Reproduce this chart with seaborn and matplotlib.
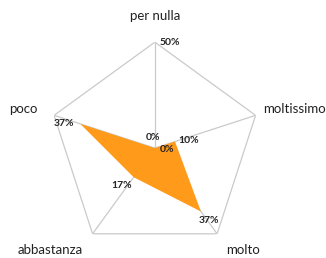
import numpy as np
import matplotlib
matplotlib.use("Agg")
import matplotlib.pyplot as plt
import seaborn as sns

# data
categories = ["per nulla", "moltissimo", "molto", "abbastanza", "poco"]
values = [0, 10, 37, 17, 37]
value_labels = ["0%", "10%", "37%", "17%", "37%"]
r_max = 50

sns.set_theme(style="white")
plt.rcParams['font.family'] = ['Lato', 'DejaVu Sans']

fig = plt.figure(figsize=(3.26, 2.58), dpi=100)
ax = fig.add_axes([0.150, 0.015, 0.650, 0.822], projection='polar')
ax.set_theta_offset(np.pi / 2)
ax.set_theta_direction(-1)
ax.set_ylim(0, r_max)
ax.set_xticks([])
ax.set_yticks([])
ax.grid(False)
ax.spines['polar'].set_visible(False)
ax.patch.set_alpha(0)

n = len(categories)
theta = np.linspace(0, 2 * np.pi, n, endpoint=False)
theta_c = np.append(theta, theta[0])

grey = '#CACACA'
# outer pentagon and spokes
ax.plot(theta_c, [r_max] * (n + 1), color=grey, lw=0.9, zorder=1)
for t in theta:
    ax.plot([t, t], [0, r_max], color=grey, lw=0.9, zorder=1)

# data polygon
vals_c = np.append(values, values[0])
ax.fill(theta_c, vals_c, color='#FF9A1A', lw=0, zorder=2)

# category labels (offsets from outer vertex, pixels)
cat_off = [(0, 26, 'center'), (8, 6, 'left'), (26, -16, 'center'),
           (-42, -16, 'center'), (-17, 6, 'right')]
for t, name, (dx, dy, ha) in zip(theta, categories, cat_off):
    ax.annotate(name, xy=(t, r_max), xytext=(dx, dy), textcoords='offset pixels',
                ha=ha, va='center', fontsize=9.5, color='#222222', annotation_clip=False)

# axis labels
ax.annotate("50%", xy=(0, r_max), xytext=(5, 0), textcoords='offset pixels',
            ha='left', va='center', fontsize=7.5, fontweight='bold', color='#222222')
ax.annotate("0%", xy=(0, 0), xytext=(-2, 11), textcoords='offset pixels',
            ha='center', va='center', fontsize=7.5, fontweight='bold', color='#222222')

# value labels
val_off = [(12, -1), (14, 1), (8, -9), (-12, -8), (-16, 0)]
for t, v, lab, (dx, dy) in zip(theta, values, value_labels, val_off):
    ax.annotate(lab, xy=(t, v), xytext=(dx, dy), textcoords='offset pixels',
                ha='center', va='center', fontsize=7.5, fontweight='bold', color='#222222')

fig.savefig("out.png", dpi=100)
